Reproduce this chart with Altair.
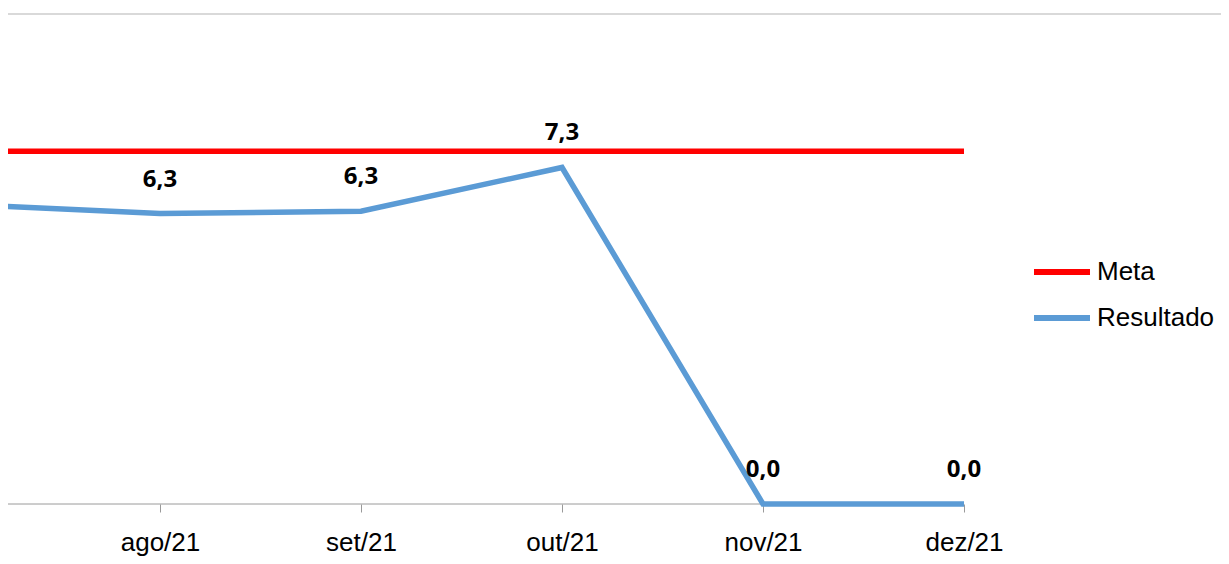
import altair as alt
import pandas as pd

months = ["jul/21", "ago/21", "set/21", "out/21", "nov/21", "dez/21"]
resultado = [6.5, 6.3, 6.35, 7.3, 0.0, 0.0]
meta = [7.65, 7.65, 7.65, 7.65, 7.65, 7.65]
series = ["Meta", "Resultado"]
colors = ["#FF0000", "#5B9BD5"]

rows = []
for i, m in enumerate(months):
    rows.append({"idx": i, "mes": m, "serie": "Meta", "valor": meta[i]})
for i, m in enumerate(months):
    rows.append({"idx": i, "mes": m, "serie": "Resultado", "valor": resultado[i]})
df = pd.DataFrame(rows)
lab = df[(df.serie == "Resultado") & (df.idx > 0)].copy()
lab["txt"] = lab["valor"].map(lambda v: f"{v:.1f}".replace(".", ","))

W, H = 1213, 490
step = 201.0
x0 = 1 - 152 / step
x1 = x0 + W / step
ymax = 490 / 46.1
xs = alt.Scale(domain=[x0, x1], nice=False, zero=False)
ys = alt.Scale(domain=[0, ymax], nice=False)

label_expr = "[" + ",".join(f"'{m}'" for m in months) + "][datum.value]"

x_enc = alt.X("idx:Q", scale=xs,
              axis=alt.Axis(values=[1, 2, 3, 4, 5], labelExpr=label_expr, domain=False,
                            grid=False, tickColor="#9A9A9A", tickSize=8, tickWidth=1,
                            labelFont="Liberation Sans", labelFontSize=26, labelColor="#000000",
                            labelPadding=17, title=None))
y_enc = alt.Y("valor:Q", scale=ys, axis=None)

axis_line = alt.Chart(pd.DataFrame({"a": [x0], "b": [5.0], "v": [0.0]})).mark_rule(
    color="#9A9A9A", strokeWidth=1).encode(
    x=alt.X("a:Q", scale=xs, axis=None), x2="b:Q", y=alt.Y("v:Q", scale=ys, axis=None))

top_line = alt.Chart(pd.DataFrame({"a": [x0], "b": [x1], "v": [ymax]})).mark_rule(
    color="#D9D9D9", strokeWidth=2).encode(
    x=alt.X("a:Q", scale=xs, axis=None), x2="b:Q", y=alt.Y("v:Q", scale=ys, axis=None))

lines = alt.Chart(df).mark_line(strokeWidth=5.5).encode(
    x=x_enc, y=y_enc,
    color=alt.Color("serie:N",
                    scale=alt.Scale(domain=series, range=colors),
                    legend=alt.Legend(title=None, orient="none", legendX=1023, legendY=227,
                                      padding=0, symbolType="stroke", symbolSize=3136,
                                      symbolStrokeWidth=6,
                                      labelFont="Liberation Sans", labelFontSize=26,
                                      labelColor="#000000", rowPadding=2, labelOffset=4)),
)

labels = alt.Chart(lab).mark_text(font="Open Sans", fontWeight="bold", fontSize=24, dy=-34,
                                  baseline="middle", color="#000000").encode(
    x=alt.X("idx:Q", scale=xs, axis=None), y=alt.Y("valor:Q", scale=ys, axis=None),
    text="txt:N")

chart = alt.layer(top_line, axis_line, lines, labels).resolve_scale(
    x="independent"
).properties(
    width=W, height=H, autosize="none",
    padding={"left": 0, "top": 6, "right": 0, "bottom": 56},
).configure_view(stroke=None)

chart.save("out.html", embed_options={"renderer": "svg", "actions": False})
